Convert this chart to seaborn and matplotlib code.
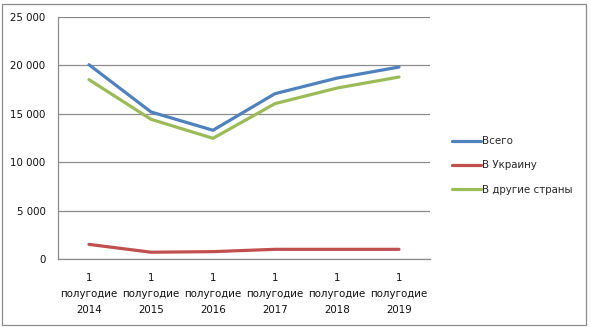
import matplotlib
matplotlib.use("Agg")
import matplotlib.pyplot as plt
from matplotlib.patches import Rectangle
import pandas as pd
import seaborn as sns

periods = ["1\nполугодие\n2014", "1\nполугодие\n2015", "1\nполугодие\n2016",
           "1\nполугодие\n2017", "1\nполугодие\n2018", "1\nполугодие\n2019"]
total = [20070, 15190, 13300, 17080, 18690, 19830]
ukraine = [1510, 700, 760, 1000, 1000, 1000]
other = [18530, 14430, 12470, 16050, 17660, 18800]
series_names = ["Всего", "В Украину", "В другие страны"]
colors = ["#4F81BD", "#C0504D", "#9BBB59"]
yticks = [0, 5000, 10000, 15000, 20000, 25000]

rows = []
for name, vals in zip(series_names, [total, ukraine, other]):
    for i, v in enumerate(vals):
        rows.append({"pos": i, "value": v, "series": name})
df = pd.DataFrame(rows)

sns.set_theme(style="white")
plt.rcParams["font.family"] = ["DejaVu Sans"]

FS = 7.4
fig = plt.figure(figsize=(5.91, 3.27), dpi=100)
ax = fig.add_axes([58 / 591, 1 - 259 / 327, 372 / 591, 242 / 327])

sns.lineplot(data=df, x="pos", y="value", hue="series", hue_order=series_names,
             palette=colors, linewidth=2.3, ax=ax, legend=False)

ax.set_xlim(-0.5, 5.5)
ax.set_ylim(0, 25000)
ax.set_yticks(yticks)
ax.set_yticklabels([f"{t:,}".replace(",", " ") for t in yticks], fontsize=FS, color="#111111")
ax.yaxis.grid(True, color="#8c8c8c", linewidth=0.9)
ax.set_axisbelow(True)

# category labels centred, tick marks on category boundaries
ax.set_xticks(range(len(periods)))
ax.set_xticklabels(periods, fontsize=FS, color="#111111", linespacing=1.75)
ax.set_xticks([i - 0.5 for i in range(len(periods) + 1)], minor=True)
ax.tick_params(axis="x", which="major", length=0, pad=10)
ax.tick_params(axis="x", which="minor", length=5, color="#8c8c8c", width=0.9, direction="out")
ax.tick_params(axis="y", length=5, color="#8c8c8c", width=0.9, direction="out", pad=4)
ax.set_xlabel("")
ax.set_ylabel("")

for side in ["top", "right"]:
    ax.spines[side].set_visible(False)
for side in ["left", "bottom"]:
    ax.spines[side].set_color("#8c8c8c")
    ax.spines[side].set_linewidth(0.9)

handles = [plt.Line2D([], [], color=c, linewidth=2.3) for c in colors]
fig.legend(handles, series_names, loc="upper left",
           bbox_to_anchor=(448 / 591, 1 - 132 / 327), frameon=False,
           fontsize=FS, handlelength=2.8, handletextpad=0.15,
           labelspacing=1.4, borderaxespad=0)

fig.patches.append(Rectangle((2 / 591, 2 / 327), 584 / 591, 321 / 327,
                             transform=fig.transFigure, fill=False,
                             edgecolor="#8c8c8c", linewidth=0.9))

fig.savefig("out.png", dpi=100)
